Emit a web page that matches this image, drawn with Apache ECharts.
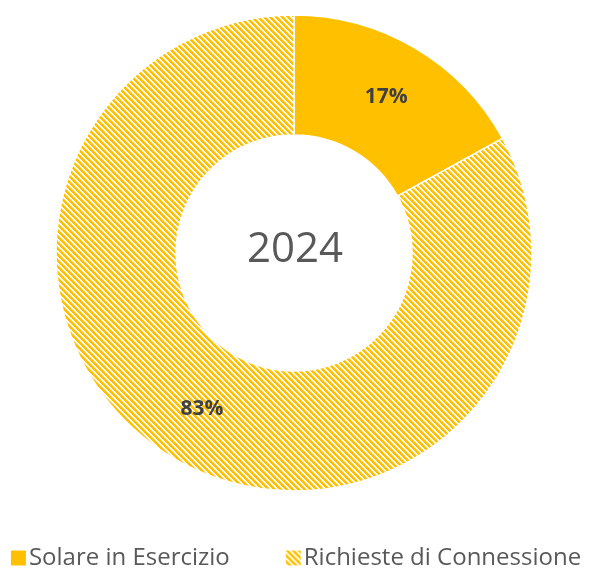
<!DOCTYPE html>
<html>
<head>
<meta charset="utf-8">
<script src="https://cdn.jsdelivr.net/npm/echarts@6/dist/echarts.min.js"></script>
<style>
  html, body { margin: 0; padding: 0; background: #fff; }
  #chart { width: 590px; height: 575px; }
</style>
</head>
<body>
<div id="chart"></div>
<script>
const categories = ["Solare in Esercizio", "Richieste di Connessione"];
const shares = [17, 83];
const centerText = "2024";

// diagonal stripe tile for the hatched slice (crisp pixels, "\" direction)
function makeHatch() {
  const size = 6;
  const c = document.createElement("canvas");
  c.width = size;
  c.height = size;
  const ctx = c.getContext("2d");
  ctx.fillStyle = "#ffffff";
  ctx.fillRect(0, 0, size, size);
  for (let y = 0; y < size; y++) {
    for (let x = 0; x < size; x++) {
      const d = ((x - y) % size + size) % size;
      if (d < 3) {
        ctx.fillStyle = "#FFC000";
        ctx.fillRect(x, y, 1, 1);
      } else if (d === 3) {
        ctx.fillStyle = "#FFDB70";
        ctx.fillRect(x, y, 1, 1);
      }
    }
  }
  return c;
}

const hatch = { image: makeHatch(), repeat: "repeat" };
const colors = ["#FFC000", hatch];

const chart = echarts.init(document.getElementById("chart"));
chart.setOption({
  animation: false,
  title: {
    text: centerText,
    left: "center",
    top: 224,
    textStyle: {
      fontFamily: "Open Sans",
      fontSize: 42,
      fontWeight: "normal",
      color: "#595959"
    }
  },
  legend: {
    bottom: 0,
    left: "center",
    itemWidth: 17,
    itemHeight: 17,
    itemGap: 54,
    icon: "rect",
    textStyle: {
      fontFamily: "Open Sans",
      fontSize: 24,
      color: "#595959",
      padding: [0, 0, 0, -3]
    },
    data: categories
  },
  series: [
    {
      type: "pie",
      center: [294, 253],
      radius: [118, 238],
      startAngle: 90,
      clockwise: true,
      label: {
        show: true,
        position: "inside",
        formatter: "{c}%",
        fontFamily: "Open Sans",
        fontWeight: "bold",
        fontSize: 21,
        color: "#404040"
      },
      labelLine: { show: false },
      itemStyle: { borderColor: "#ffffff", borderWidth: 1.5 },
      emphasis: { disabled: true },
      data: categories.map((name, i) => ({
        name: name,
        value: shares[i],
        itemStyle: { color: colors[i] }
      }))
    }
  ]
});
</script>
</body>
</html>
